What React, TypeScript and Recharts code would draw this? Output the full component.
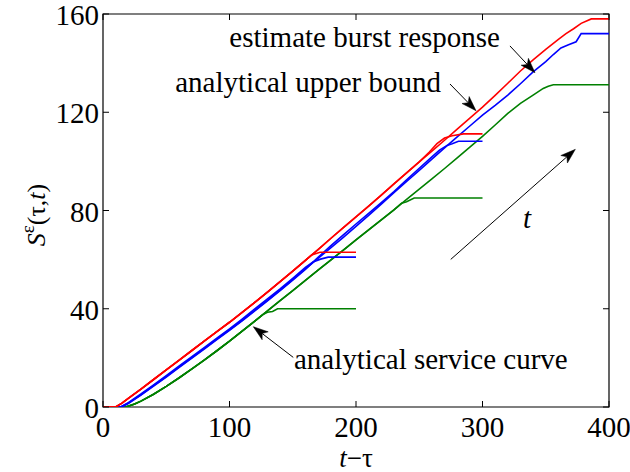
import React from 'react';
import { LineChart, Line, XAxis, YAxis, ReferenceLine, ReferenceDot, ReferenceArea } from 'recharts';

type P = [number, number];

// ---- data (x = t - tau, y = S) ----
const redT400: P[] = [
  [0, 0], [10, 0], [15, 1.6], [20, 3.5], [30, 7.3], [40, 11.2], [50, 15.1], [60, 19], [70, 22.9],
  [80, 26.8], [90, 30.7], [100, 34.5], [110, 38.5], [120, 42.6], [130, 46.8], [140, 51], [150, 55.3],
  [160, 59.7], [170, 64.1], [180, 68.6], [190, 73], [200, 77.4], [210, 81.8], [220, 86.3], [230, 90.8],
  [240, 95.3], [250, 99.8], [260, 104.2], [270, 108.6], [280, 113.1], [290, 117.6], [300, 122.1],
  [310, 126.9], [320, 131.8], [330, 136.8], [340, 141.3], [350, 145.6], [360, 149.7], [366, 152],
  [372, 154], [378, 156.2], [386, 158], [400, 158],
];
const redT300: P[] = [
  ...redT400.filter((p) => p[0] <= 250),
  [258, 103.8], [264, 107.2], [270, 109.5], [276, 110.4], [285, 111.2], [300, 111.2],
];
const redT200: P[] = [
  ...redT400.filter((p) => p[0] <= 160),
  [165, 61.9], [171.5, 63], [200, 63],
];

const blueT400: P[] = [
  [0, 0], [14, 0], [20, 1.6], [30, 5], [40, 8.7], [50, 12.4], [60, 16.2], [70, 20], [80, 23.8],
  [90, 27.6], [100, 31.4], [110, 35.3], [120, 39.3], [130, 43.4], [140, 47.6], [150, 51.9], [160, 56.2],
  [170, 60.5], [180, 64.8], [190, 69.1], [200, 73.5], [210, 78], [220, 82.6], [230, 87.3], [240, 91.8],
  [250, 96.3], [260, 100.9], [270, 105.5], [280, 110], [290, 114.4], [300, 118.8], [310, 122.8],
  [320, 127], [330, 131.6], [340, 136.4], [350, 140.6], [356, 143.5], [362, 146.2], [368, 147.5],
  [374, 148.7], [378, 152], [400, 152],
];
const blueT300: P[] = [
  [0, 0], [15, 0], [20, 1.4], [30, 4.8], [40, 8.5], [50, 12.2], [60, 16], [70, 19.8], [80, 23.6],
  [90, 27.4], [100, 31.2], [110, 35.1], [120, 39.1], [130, 43.2], [140, 47.4], [150, 51.7], [160, 56],
  [170, 60.9], [180, 65.6], [190, 70.1], [200, 74.5], [210, 78.8], [220, 83.2], [230, 87.7], [240, 92.5],
  [250, 97.2], [260, 101.8], [266, 104.6], [272, 106.5], [276, 107.2], [281, 108.2], [300, 108.2],
];
const blueT200: P[] = [
  [0, 0], [14, 0], [20, 1.8], [30, 5.3], [40, 9], [50, 12.8], [60, 16.6], [70, 20.4], [80, 24.2],
  [90, 28], [100, 31.8], [110, 35.8], [120, 39.9], [130, 44], [140, 48.1], [150, 52.4], [160, 56.8],
  [166, 59], [172, 60.2], [178, 61], [200, 61],
];

const greenT400: P[] = [
  [0, 0], [18, 0], [25, 1.2], [30, 2.4], [40, 5.2], [50, 8.4], [60, 11.8], [70, 15.4], [80, 19.1],
  [90, 22.9], [100, 26.8], [110, 30.9], [120, 35], [130, 39.1], [140, 43.3], [150, 47.4], [160, 51.6],
  [170, 55.7], [180, 59.8], [190, 63.9], [200, 68], [210, 72.1], [220, 76.2], [230, 80.3], [240, 84.5],
  [250, 88.7], [260, 92.9], [270, 97.1], [280, 101.4], [290, 105.8], [300, 110.2], [310, 114.8],
  [320, 119.5], [330, 123.6], [340, 127], [348, 129.7], [352, 130.6], [356, 131.2], [400, 131.2],
];
const greenT300: P[] = [
  ...greenT400.filter((p) => p[0] <= 230),
  [236, 83], [240, 83.6], [246, 85.1], [300, 85.1],
];
const greenT200: P[] = [
  ...greenT400.filter((p) => p[0] <= 120),
  [126, 37.5], [130, 38.6], [134, 38.9], [138, 40], [200, 40],
];

const xTicks = [0, 100, 200, 300, 400];
const yTicks = [0, 40, 80, 120, 160];

// annotation arrows (tail -> tip) and texts, in data coordinates
const arrows: { from: P; to: P }[] = [
  { from: [321.7, 147], to: [341.5, 136.1] },
  { from: [274.3, 131.5], to: [294.9, 120.6] },
  { from: [150.4, 20.2], to: [118.8, 32.7] },
  { from: [274.9, 60.1], to: [373.4, 104.9] },
];
const notes: { text: string; at: P; anchor: 'start' | 'end'; italic?: boolean }[] = [
  { text: 'estimate burst response', at: [313.8, 146.6], anchor: 'end' },
  { text: 'analytical upper bound', at: [267.2, 128.3], anchor: 'end' },
  { text: 'analytical service curve', at: [151, 15.3], anchor: 'start' },
  { text: 't', at: [332, 73], anchor: 'start', italic: true },
];

// ---- styling / layout ----
const FONT = '"Liberation Serif", "DejaVu Serif", serif';
const W = 630;
const H = 472;
const PL = 103;
const PR = 609;
const PT = 14;
const PB = 407;
const RED = '#ff0000';
const BLUE = '#0000ff';
const GREEN = '#008000';

const toData = (pts: P[]) => pts.map(([x, y]) => ({ x, y }));

const XTick = (props: any) => {
  const { x, payload } = props;
  return (
    <g>
      <line x1={x} x2={x} y1={PB} y2={PB - 6} stroke="#000" strokeWidth={1} />
      <line x1={x} x2={x} y1={PT} y2={PT + 6} stroke="#000" strokeWidth={1} />
      <text x={x} y={437} textAnchor="middle" fontSize={29} style={{ fontFamily: FONT }} fill="#000">
        {payload.value}
      </text>
    </g>
  );
};

const YTick = (props: any) => {
  const { y, payload } = props;
  return (
    <g>
      <line x1={PL} x2={PL + 6} y1={y} y2={y} stroke="#000" strokeWidth={1} />
      <line x1={PR} x2={PR - 6} y1={y} y2={y} stroke="#000" strokeWidth={1} />
      <text x={99} y={y + 11} textAnchor="end" fontSize={29} style={{ fontFamily: FONT }} fill="#000">
        {payload.value}
      </text>
    </g>
  );
};

const YLabel = () => (
  <text transform="translate(45,215) rotate(-90)" textAnchor="middle" fontSize={26} fill="#000" style={{ fontFamily: FONT }}>
    <tspan fontStyle="italic">S</tspan>
    <tspan fontSize={19} dy={-11}>ε</tspan>
    <tspan dy={11}>(τ,</tspan>
    <tspan fontStyle="italic">t</tspan>
    <tspan>)</tspan>
  </text>
);

const XLabel = () => (
  <text x={356} y={467} textAnchor="middle" fontSize={27} fill="#000" style={{ fontFamily: FONT }}>
    <tspan fontStyle="italic">t</tspan>
    <tspan>−τ</tspan>
  </text>
);

const ArrowShape = (props: any) => {
  const { x1, y1, x2, y2 } = props;
  const dx = x2 - x1;
  const dy = y2 - y1;
  const len = Math.sqrt(dx * dx + dy * dy) || 1;
  const ux = dx / len;
  const uy = dy / len;
  const nx = -uy;
  const ny = ux;
  const L = 15;
  const Wd = 5;
  const bx = x2 - ux * L;
  const by = y2 - uy * L;
  const kx = x2 - ux * L * 0.75;
  const ky = y2 - uy * L * 0.75;
  const pts = `${x2},${y2} ${bx + nx * Wd},${by + ny * Wd} ${kx},${ky} ${bx - nx * Wd},${by - ny * Wd}`;
  return (
    <g>
      <line x1={x1} y1={y1} x2={kx} y2={ky} stroke="#000" strokeWidth={1} />
      <polygon points={pts} fill="#000" stroke="#000" strokeWidth={0.5} />
    </g>
  );
};

const makeNote = (n: { text: string; anchor: 'start' | 'end'; italic?: boolean }) => (props: any) => (
  <text
    x={props.cx}
    y={props.cy}
    textAnchor={n.anchor}
    fontSize={29}
    fontStyle={n.italic ? 'italic' : 'normal'}
    fill="#000"
    style={{ fontFamily: FONT }}
  >
    {n.text}
  </text>
);

const series: { key: string; pts: P[]; color: string }[] = [
  { key: 'g200', pts: greenT200, color: GREEN },
  { key: 'g300', pts: greenT300, color: GREEN },
  { key: 'g400', pts: greenT400, color: GREEN },
  { key: 'b200', pts: blueT200, color: BLUE },
  { key: 'b300', pts: blueT300, color: BLUE },
  { key: 'b400', pts: blueT400, color: BLUE },
  { key: 'r200', pts: redT200, color: RED },
  { key: 'r300', pts: redT300, color: RED },
  { key: 'r400', pts: redT400, color: RED },
];

export default function App() {
  return (
    <div style={{ position: 'absolute', left: 0, top: 0, width: W, height: H, background: '#fff', fontFamily: FONT }}>
      <LineChart width={W} height={H} margin={{ top: PT, right: W - PR, bottom: 0, left: 0 }} style={{ fontFamily: FONT }}>
        <XAxis
          type="number"
          dataKey="x"
          domain={[0, 400]}
          ticks={xTicks}
          allowDataOverflow
          height={H - PB}
          axisLine={false}
          tickLine={false}
          tick={<XTick />}
          label={<XLabel />}
          interval={0}
        />
        <YAxis
          type="number"
          dataKey="y"
          domain={[0, 160]}
          ticks={yTicks}
          allowDataOverflow
          width={PL}
          axisLine={false}
          tickLine={false}
          tick={<YTick />}
          label={<YLabel />}
          interval={0}
        />
        <ReferenceArea x1={0} x2={400} y1={0} y2={160} fill="none" stroke="#000" strokeWidth={1.2} ifOverflow="visible" />
        {series.map((s) => (
          <Line
            key={s.key}
            data={toData(s.pts)}
            dataKey="y"
            type="linear"
            stroke={s.color}
            strokeWidth={1.6}
            dot={false}
            activeDot={false}
            isAnimationActive={false}
          />
        ))}
        {arrows.map((a, i) => (
          <ReferenceLine
            key={'a' + i}
            segment={[{ x: a.from[0], y: a.from[1] }, { x: a.to[0], y: a.to[1] }]}
            ifOverflow="visible"
            shape={ArrowShape}
          />
        ))}
        {notes.map((n, i) => (
          <ReferenceDot key={'n' + i} x={n.at[0]} y={n.at[1]} r={0} ifOverflow="visible" shape={makeNote(n)} />
        ))}
      </LineChart>
    </div>
  );
}
